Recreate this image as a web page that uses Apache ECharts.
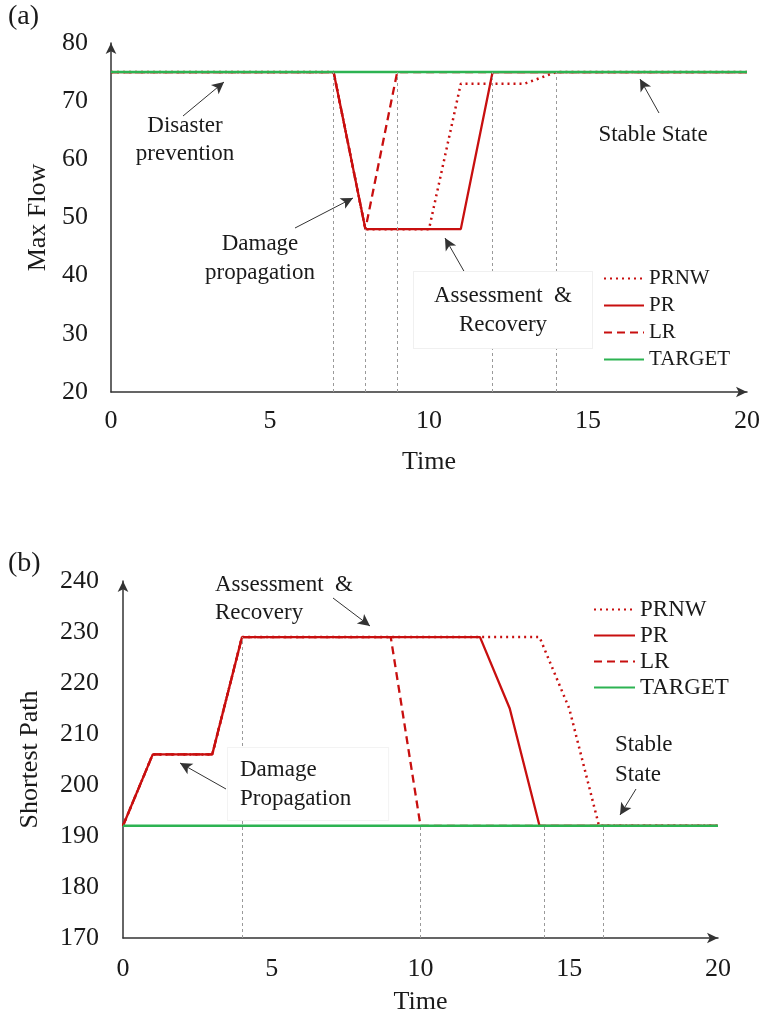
<!DOCTYPE html>
<html>
<head>
<meta charset="utf-8">
<script src="https://cdn.jsdelivr.net/npm/echarts@6/dist/echarts.min.js"></script>
<style>
html,body{margin:0;padding:0;background:#fff;}
#chart{width:764px;height:1018px;}
</style>
</head>
<body>
<div id="chart"></div>
<script>
// ---------- DATA ----------
const seriesNames = ['PRNW', 'PR', 'LR', 'TARGET'];
const xTicks = [0, 5, 10, 15, 20];

// Panel (a): Max Flow
const prnwA_t = [0, 7, 8, 10, 11, 13, 14, 20];
const prnwA_v = [75, 75, 48, 48, 73, 73, 75, 75];
const prA_t = [0, 7, 8, 11, 12, 20];
const prA_v = [75, 75, 48, 48, 75, 75];
const lrA_t = [0, 7, 8, 9, 20];
const lrA_v = [75, 75, 48, 75, 75];
const targetA_t = [0, 20];
const targetA_v = [75, 75];
const refA_t = [7, 8, 9, 12, 14];
const refA_top = [75, 48, 75, 75, 75];

// Panel (b): Shortest Path
const prnwB_t = [0, 1, 3, 4, 14, 15, 16, 20];
const prnwB_v = [192, 206, 206, 229, 229, 215, 192, 192];
const prB_t = [0, 1, 3, 4, 12, 13, 14, 20];
const prB_v = [192, 206, 206, 229, 229, 215, 192, 192];
const lrB_t = [0, 1, 3, 4, 9, 10, 20];
const lrB_v = [192, 206, 206, 229, 229, 192, 192];
const targetB_t = [0, 20];
const targetB_v = [192, 192];
const refB_t = [4, 10, 14.15, 16.15];
const refB_top = [229, 192, 192, 192];

// ---------- STYLE ----------
const FONT = '"Liberation Serif", "Times New Roman", serif';
const RED = '#C80F0F';
const GREEN = '#2DB352';
const AXIS = '#333333';
const TXT = '#1a1a1a';

const zip = (t, v) => t.map((x, i) => [x, v[i]]);

function axisBase(extra) {
  return Object.assign({
    type: 'value',
    axisLine: { show: true, onZero: false, symbol: ['none', 'arrow'], symbolSize: [8, 11],
      lineStyle: { color: AXIS, width: 1.5 } },
    axisTick: { show: false },
    splitLine: { show: false },
    axisLabel: { fontFamily: FONT, fontSize: 26, color: TXT },
    nameLocation: 'middle',
    nameTextStyle: { fontFamily: FONT, fontSize: 26, color: TXT }
  }, extra);
}

function refLines(ts, tops, ymin) {
  return ts.map((t, i) => [{ coord: [t, ymin] }, { coord: [t, tops[i]] }]);
}
function arrows(list) {
  return list.map(a => [{ x: a[0], y: a[1] }, { x: a[2], y: a[3] }]);
}

const lineTypes = { PRNW: [2, 4], PR: 'solid', LR: [8, 5], TARGET: 'solid' };
const lineColors = { PRNW: RED, PR: RED, LR: RED, TARGET: GREEN };
const lineWidths = { PRNW: 2.5, PR: 2.3, LR: 2.3, TARGET: 2.5 };

function mkSeries(name, gi, data, extra) {
  return Object.assign({
    name: name, type: 'line', xAxisIndex: gi, yAxisIndex: gi,
    data: data, symbol: 'none', showSymbol: false, animation: false,
    lineStyle: { color: lineColors[name], width: lineWidths[name], type: lineTypes[name] },
    itemStyle: { color: lineColors[name] },
    emphasis: { disabled: true }
  }, extra || {});
}

const refStyle = { color: '#9a9a9a', width: 1, type: [3, 3] };
const arrowStyle = { color: '#333', width: 1, type: 'solid' };

function refMark(ts, tops, ymin) {
  return { silent: true, symbol: ['none', 'none'], label: { show: false },
    lineStyle: refStyle, emphasis: { disabled: true }, animation: false,
    data: refLines(ts, tops, ymin) };
}
function arrowMark(list) {
  return { silent: true, symbol: ['none', 'arrow'], symbolSize: [9, 12], label: { show: false },
    lineStyle: arrowStyle, itemStyle: { color: '#111' }, emphasis: { disabled: true }, animation: false,
    data: arrows(list) };
}

const arrowsA = [[183, 116, 224, 82], [295, 228, 353, 198], [465, 273, 445, 238], [659, 113, 640, 79]];
const arrowsB = [[333, 598, 370, 626], [226, 789, 180, 763], [636, 789, 620, 815]];

function txt(text, x, y, align, extra) {
  return { type: 'text', x: x, y: y, z: 50,
    style: Object.assign({ text: text, font: '23px ' + FONT, fill: TXT, align: align,
      verticalAlign: 'top', lineHeight: 29 }, extra || {}) };
}

const legendHide = { color: 'rgba(0,0,0,0)', borderColor: 'rgba(0,0,0,0)', borderWidth: 0, opacity: 0 };

const option = {
  backgroundColor: '#fff',
  animation: false,
  grid: [
    { left: 111, top: 43, width: 636, height: 349, containLabel: false },
    { left: 123, top: 581, width: 595, height: 357, containLabel: false }
  ],
  xAxis: [
    axisBase({ gridIndex: 0, min: 0, max: 20, interval: 5, name: 'Time', nameGap: 57,
      axisLabel: { fontFamily: FONT, fontSize: 26, color: TXT, margin: 16 } }),
    axisBase({ gridIndex: 1, min: 0, max: 20, interval: 5, name: 'Time', nameGap: 51,
      axisLabel: { fontFamily: FONT, fontSize: 26, color: TXT, margin: 18 } })
  ],
  yAxis: [
    axisBase({ gridIndex: 0, min: 20, max: 80, interval: 10, name: 'Max Flow', nameGap: 48,
      axisLabel: { fontFamily: FONT, fontSize: 26, color: TXT, margin: 23 } }),
    axisBase({ gridIndex: 1, min: 170, max: 240, interval: 10, name: 'Shortest Path', nameGap: 80,
      axisLabel: { fontFamily: FONT, fontSize: 26, color: TXT, margin: 24 } })
  ],
  legend: [
    { data: seriesNames, orient: 'vertical', left: 598, top: 263, itemWidth: 40, itemHeight: 14,
      itemGap: 6, selectedMode: false, itemStyle: legendHide,
      textStyle: { fontFamily: FONT, fontSize: 21, color: TXT } },
    { data: seriesNames, orient: 'vertical', left: 588, top: 593, itemWidth: 41, itemHeight: 14,
      itemGap: 3, selectedMode: false, itemStyle: legendHide,
      textStyle: { fontFamily: FONT, fontSize: 23, color: TXT } }
  ],
  series: [
    mkSeries('PRNW', 0, zip(prnwA_t, prnwA_v), { markLine: refMark(refA_t, refA_top, 20) }),
    mkSeries('PR', 0, zip(prA_t, prA_v)),
    mkSeries('LR', 0, zip(lrA_t, lrA_v)),
    mkSeries('TARGET', 0, zip(targetA_t, targetA_v), { markLine: arrowMark(arrowsA) }),
    mkSeries('PRNW', 1, zip(prnwB_t, prnwB_v), { markLine: refMark(refB_t, refB_top, 170) }),
    mkSeries('PR', 1, zip(prB_t, prB_v)),
    mkSeries('LR', 1, zip(lrB_t, lrB_v)),
    mkSeries('TARGET', 1, zip(targetB_t, targetB_v), { markLine: arrowMark(arrowsB) })
  ],
  graphic: [
    { type: 'text', x: 8, y: 3, style: { text: '(a)', font: '28px ' + FONT, fill: TXT } },
    { type: 'text', x: 8, y: 550, style: { text: '(b)', font: '28px ' + FONT, fill: TXT } },
    txt('Disaster\nprevention', 185, 112, 'center', { lineHeight: 28 }),
    txt('Damage\npropagation', 260, 229, 'center'),
    txt('Assessment  &\nRecovery', 503, 272, 'center',
      { backgroundColor: '#fff', padding: [9, 20, 9, 20], borderColor: '#f0f0f0', borderWidth: 1 }),
    txt('Stable State', 653, 120, 'center'),
    txt('Assessment  &\nRecovery', 215, 571, 'left', { lineHeight: 28 }),
    txt('Damage\nPropagation', 228, 748, 'left',
      { backgroundColor: '#fff', padding: [7, 37, 7, 12], borderColor: '#f3f3f3', borderWidth: 1 }),
    txt('Stable\nState', 615, 730, 'left', { lineHeight: 30 })
  ]
};

const chart = echarts.init(document.getElementById('chart'), null, { renderer: 'canvas' });
chart.setOption(option);
</script>
</body>
</html>
